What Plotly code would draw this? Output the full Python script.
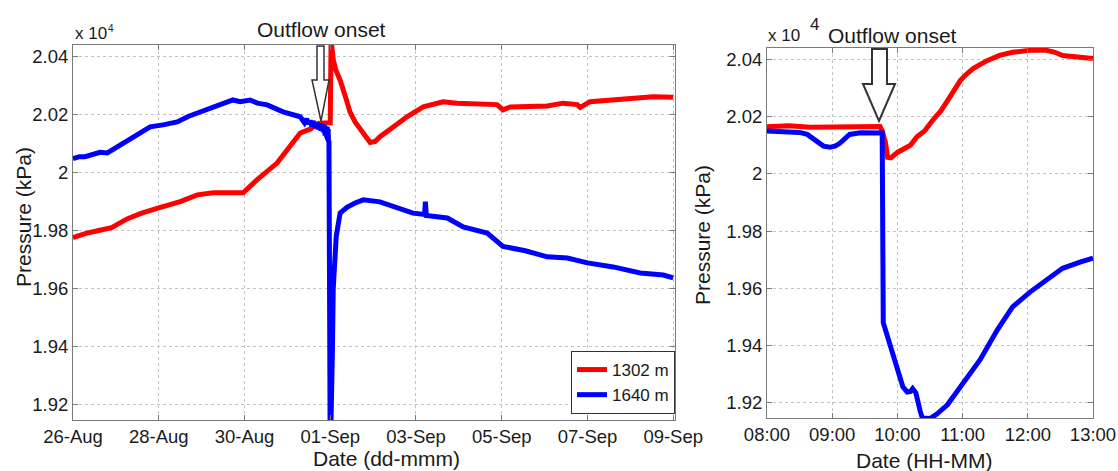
import pandas as pd
import plotly.graph_objects as go

# ---------------- data (pressure shown in units of 10^4 kPa) ----------------
base_day = pd.Timestamp("2012-08-26")

# Left panel: days since 26-Aug 00:00
red_days = [0.00, 0.30, 0.60, 0.90, 1.26, 1.60, 2.00, 2.50, 2.90, 3.27, 3.97, 4.29,
            4.76, 5.10, 5.30, 5.53, 5.72, 5.95, 6.00, 6.02, 6.07, 6.13, 6.23, 6.36,
            6.46, 6.58, 6.70, 6.82, 6.93, 7.05, 7.16, 7.47, 7.79, 8.17, 8.40, 8.63,
            8.96, 9.50, 9.89, 10.03, 10.20, 11.06, 11.43, 11.76, 11.83, 12.06, 12.60,
            13.23, 13.53, 14.00]
red_vals = [1.9775, 1.9790, 1.9800, 1.9810, 1.9840, 1.9860, 1.9878, 1.9900, 1.9923,
            1.9930, 1.9930, 1.9975, 2.0033, 2.0095, 2.0137, 2.0150, 2.0170, 2.0172,
            2.0172, 2.0460, 2.0390, 2.0355, 2.0320, 2.0260, 2.0210, 2.0175, 2.0148,
            2.0122, 2.0104, 2.0108, 2.0124, 2.0158, 2.0193, 2.0227, 2.0238, 2.0245,
            2.0240, 2.0237, 2.0235, 2.0217, 2.0227, 2.0230, 2.0240, 2.0235, 2.0225,
            2.0245, 2.0250, 2.0258, 2.0262, 2.0260]

blue_days = [0.00, 0.15, 0.28, 0.45, 0.63, 0.80, 0.98, 1.10, 1.26, 1.50, 1.80, 2.10,
             2.43, 2.70, 2.96, 3.30, 3.55, 3.73, 3.90, 4.13, 4.30, 4.53, 4.90, 5.10,
             5.30, 5.40, 5.45, 5.50, 5.53, 5.57, 5.60, 5.65, 5.69, 5.72, 5.75, 5.78,
             5.81, 5.84, 5.86, 5.88, 5.90, 5.92, 5.93, 5.94, 5.95, 5.96, 5.97, 6.00,
             6.02, 6.05, 6.07, 6.10, 6.14, 6.23, 6.39, 6.58, 6.77, 7.16, 7.56, 7.93,
             8.20, 8.22, 8.24, 8.73, 9.10, 9.66, 10.03, 10.55, 11.06, 11.53, 12.00,
             12.60, 13.23, 13.77, 14.00]
blue_vals = [2.0048, 2.0055, 2.0055, 2.0062, 2.0070, 2.0068, 2.0085, 2.0092, 2.0110,
             2.0130, 2.0158, 2.0165, 2.0175, 2.0195, 2.0210, 2.0228, 2.0240, 2.0251,
             2.0245, 2.0251, 2.0240, 2.0234, 2.0210, 2.0200, 2.0193, 2.0172, 2.0185,
             2.0168, 2.0180, 2.0160, 2.0178, 2.0155, 2.0172, 2.0150, 2.0170, 2.0145,
             2.0168, 2.0140, 2.0165, 2.0128, 2.0160, 2.0120, 2.0158, 2.0112, 2.0150,
             2.0105, 2.0110, 1.9000, 1.9100, 1.9380, 1.9600, 1.9700, 1.9780, 1.9860,
             1.9880, 1.9895, 1.9906, 1.9899, 1.9881, 1.9860, 1.9855, 1.9900, 1.9852,
             1.9843, 1.9812, 1.9791, 1.9745, 1.9730, 1.9709, 1.9705, 1.9688, 1.9674,
             1.9653, 1.9646, 1.9636]

# Right panel: 01-Sep, HH:MM
zoom_date = "2012-09-01"
red_times = ["08:00", "08:20", "08:40", "09:00", "09:20", "09:40", "09:44", "09:46",
             "09:49", "09:51", "09:54", "10:00", "10:05", "10:12", "10:18", "10:25",
             "10:33", "10:40", "10:46", "10:52", "10:58", "11:04", "11:10", "11:22",
             "11:34", "11:46", "12:02", "12:17", "12:25", "12:32", "12:48", "13:00"]
red_zoom = [2.0165, 2.0168, 2.0163, 2.0165, 2.0166, 2.0165, 2.0166, 2.0150, 2.0110,
            2.0058, 2.0056, 2.0075, 2.0085, 2.0100, 2.0130, 2.0150, 2.0190, 2.0220,
            2.0255, 2.0290, 2.0327, 2.0350, 2.0369, 2.0395, 2.0414, 2.0425, 2.0432,
            2.0432, 2.0425, 2.0414, 2.0407, 2.0403]

blue_times = ["08:00", "08:10", "08:21", "08:30", "08:37", "08:42", "08:46", "08:52",
              "08:58", "09:03", "09:07", "09:12", "09:16", "09:26", "09:35", "09:46",
              "09:47", "09:50", "09:56", "10:02", "10:05", "10:09", "10:12", "10:14",
              "10:17", "10:21", "10:23", "10:30", "10:36", "10:46", "11:00", "11:16",
              "11:32", "11:46", "12:02", "12:17", "12:32", "12:48", "13:00"]
blue_zoom = [2.0150, 2.0148, 2.0146, 2.0145, 2.0138, 2.0125, 2.0112, 2.0097, 2.0093,
             2.0098, 2.0107, 2.0125, 2.0138, 2.0144, 2.0144, 2.0143, 1.9480, 1.9444,
             1.9374, 1.9305, 1.9256, 1.9238, 1.9240, 1.9250, 1.9235, 1.9170, 1.9147,
             1.9145, 1.9160, 1.9193, 1.9268, 1.9350, 1.9455, 1.9535, 1.9587, 1.9629,
             1.9670, 1.9692, 1.9706]

series_names = ["1302 m", "1640 m"]
y_ticks = [1.92, 1.94, 1.96, 1.98, 2.00, 2.02, 2.04]
y_ticktext = ["1.92", "1.94", "1.96", "1.98", "2", "2.02", "2.04"]
left_ticks = ["2012-08-26", "2012-08-28", "2012-08-30", "2012-09-01",
              "2012-09-03", "2012-09-05", "2012-09-07", "2012-09-09"]
right_ticks = ["08:00", "09:00", "10:00", "11:00", "12:00", "13:00"]

# ---------------- build ----------------
red_x = base_day + pd.to_timedelta(red_days, unit="D")
blue_x = base_day + pd.to_timedelta(blue_days, unit="D")
red_zx = pd.to_datetime([f"{zoom_date} {t}" for t in red_times])
blue_zx = pd.to_datetime([f"{zoom_date} {t}" for t in blue_times])
right_tickvals = pd.to_datetime([f"{zoom_date} {t}" for t in right_ticks])

RED = "#ff0000"
BLUE = "#0000ff"
LW = 5
FONT = "Liberation Sans, Arial, sans-serif"
W, H = 1118, 471


def px(x, y):
    return x / W, 1 - y / H


fig = go.Figure()
fig.add_trace(go.Scatter(x=red_x, y=red_vals, mode="lines", name=series_names[0],
                         line=dict(color=RED, width=LW), xaxis="x", yaxis="y"))
fig.add_trace(go.Scatter(x=blue_x, y=blue_vals, mode="lines", name=series_names[1],
                         line=dict(color=BLUE, width=LW), xaxis="x", yaxis="y"))
fig.add_trace(go.Scatter(x=red_zx, y=red_zoom, mode="lines", showlegend=False,
                         line=dict(color=RED, width=LW), xaxis="x2", yaxis="y2"))
fig.add_trace(go.Scatter(x=blue_zx, y=blue_zoom, mode="lines", showlegend=False,
                         line=dict(color=BLUE, width=LW), xaxis="x2", yaxis="y2"))

axis_common = dict(showline=True, linecolor="#7a7a7a", linewidth=1, mirror="allticks",
                   ticks="inside", ticklen=5, tickcolor="#7a7a7a", automargin=False,
                   showgrid=True, gridcolor="#c4c4c4", griddash="dot", gridwidth=1,
                   zeroline=False, tickfont=dict(family=FONT, size=18.5, color="#1a1a1a"))

fig.update_layout(
    width=W, height=H, margin=dict(l=0, r=0, t=0, b=0, autoexpand=False),
    paper_bgcolor="white", plot_bgcolor="white",
    font=dict(family=FONT, color="#1a1a1a"),
    xaxis=dict(domain=[73 / W, 675 / W], anchor="y", type="date",
               range=["2012-08-26 00:00", "2012-09-09 01:00"],
               tickvals=left_ticks, tickformat="%d-%b", **axis_common),
    yaxis=dict(domain=[1 - 420 / H, 1 - 45 / H], anchor="x",
               range=[1.9145, 2.0441], tickvals=y_ticks, ticktext=y_ticktext,
               **axis_common),
    xaxis2=dict(domain=[767 / W, 1093 / W], anchor="y2", type="date",
                range=[f"{zoom_date} 08:00", f"{zoom_date} 13:00"],
                tickvals=right_tickvals, tickformat="%H:%M", **axis_common),
    yaxis2=dict(domain=[1 - 418 / H, 1 - 48 / H], anchor="x2",
                range=[1.9147, 2.0440], tickvals=y_ticks, ticktext=y_ticktext,
                **axis_common),
    legend=dict(x=675 / W, y=1 - 414 / H, xanchor="right", yanchor="bottom",
                bgcolor="white", bordercolor="#333", borderwidth=1,
                font=dict(family=FONT, size=17, color="#1a1a1a"),
                itemwidth=30, tracegroupgap=0),
    showlegend=True,
)

# axis titles and text
ann = []
def text(x, y, s, size, angle=0, xanchor="center", yanchor="middle"):
    xp, yp = px(x, y)
    ann.append(dict(x=xp, y=yp, xref="paper", yref="paper", text=s, showarrow=False,
                    textangle=angle, xanchor=xanchor, yanchor=yanchor,
                    font=dict(family=FONT, size=size, color="#1a1a1a")))

text(23, 217, "Pressure (kPa)", 21, angle=-90)
text(702, 235, "Pressure (kPa)", 21, angle=-90)
text(386, 458, "Date (dd-mmm)", 21)
text(924, 460, "Date (HH-MM)", 21)
text(321, 30, "Outflow onset", 21)
text(892, 36, "Outflow onset", 21)
text(73, 34, "x 10", 17, xanchor="left")
text(106, 29, "4", 10, xanchor="left")
text(766, 36, "x 10", 17, xanchor="left")
text(808, 25, "4", 17, xanchor="left")
fig.update_layout(annotations=ann)


def arrow(sl, sr, top, hy, hl, hr, tipx, tipy, lw):
    pts = [(sl, top), (sl, hy), (hl, hy), (tipx, tipy), (hr, hy), (sr, hy), (sr, top)]
    p = []
    for i, (x, y) in enumerate(pts):
        xp, yp = px(x, y)
        p.append(("M" if i == 0 else "L") + f"{xp:.5f},{yp:.5f}")
    return dict(type="path", xref="paper", yref="paper", path=" ".join(p) + " Z",
                line=dict(color="#333", width=lw), fillcolor="white", layer="above")


fig.update_layout(shapes=[
    arrow(317, 324, 46, 80, 312, 329, 321, 121, 1.5),
    arrow(872, 887, 49, 84, 863, 895, 879, 121, 2),
])

fig.write_html("out.html")
